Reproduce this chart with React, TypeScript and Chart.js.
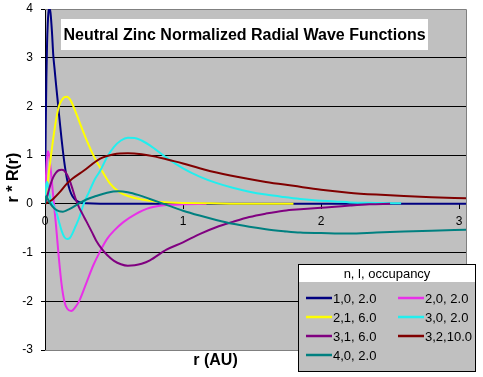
import React, { useEffect, useRef } from 'react';
import { Chart, registerables } from 'chart.js';
Chart.register(...registerables);

const TITLE = 'Neutral Zinc Normalized Radial Wave Functions';
const X_TITLE = 'r (AU)';
const Y_TITLE = 'r * R(r)';
const LEGEND_TITLE = 'n, l, occupancy';
const X_TICKS = [0, 1, 2, 3];
const X_MIN = 0;
const X_MAX = 3.05;
const Y_MIN = -3;
const Y_MAX = 4;

const SERIES_LABELS = ['1,0, 2.0', '2,0, 2.0', '2,1, 6.0', '3,0, 2.0', '3,1, 6.0', '3,2,10.0', '4,0, 2.0'];
const SERIES_COLORS = ['#000080', '#E830E8', '#FFFF00', '#22EEEE', '#800080', '#800000', '#008080'];

// 1,0
const r10 = [0, 0.005, 0.01, 0.015, 0.02, 0.025, 0.03, 0.035, 0.04, 0.05, 0.06, 0.07, 0.08, 0.09, 0.1, 0.11, 0.12, 0.13, 0.14, 0.15, 0.16, 0.18, 0.2, 0.23, 0.27, 0.3, 0.4, 0.6, 1.0, 2.0, 3.05];
const v10 = [0, 1.5, 2.6, 3.3, 3.7, 3.93, 4.0, 4.0, 3.92, 3.55, 3.05, 2.75, 2.45, 2.17, 1.88, 1.6, 1.33, 1.08, 0.85, 0.66, 0.5, 0.28, 0.15, 0.06, 0.02, 0.01, 0, 0, 0, 0, 0];
// 2,0
const r20 = [0, 0.01, 0.02, 0.03, 0.04, 0.05, 0.06, 0.07, 0.08, 0.1, 0.12, 0.14, 0.16, 0.19, 0.22, 0.25, 0.3, 0.35, 0.4, 0.45, 0.5, 0.57, 0.65, 0.76, 0.9, 1.0, 1.17];
const v20 = [0, 0.75, 1.08, 1.0, 0.75, 0.45, 0.15, -0.15, -0.45, -1.1, -1.65, -2.0, -2.15, -2.2, -2.12, -1.98, -1.62, -1.26, -0.97, -0.72, -0.55, -0.37, -0.22, -0.08, -0.02, -0.01, 0];
// 2,1
const r21 = [0, 0.02, 0.04, 0.06, 0.08, 0.1, 0.12, 0.14, 0.16, 0.18, 0.2, 0.22, 0.25, 0.3, 0.35, 0.4, 0.47, 0.54, 0.6, 0.7, 0.8, 0.9, 1.0, 1.2, 1.5, 1.8];
const v21 = [0, 0.45, 0.92, 1.35, 1.72, 2.0, 2.12, 2.19, 2.2, 2.15, 2.04, 1.9, 1.68, 1.32, 1.0, 0.74, 0.42, 0.24, 0.16, 0.09, 0.05, 0.03, 0.02, 0.01, 0, 0];
// 3,0
const r30 = [0, 0.005, 0.01, 0.015, 0.02, 0.03, 0.04, 0.05, 0.06, 0.08, 0.1, 0.12, 0.14, 0.16, 0.18, 0.2, 0.22, 0.25, 0.28, 0.32, 0.36, 0.4, 0.45, 0.5, 0.55, 0.6, 0.65, 0.7, 0.76, 0.88, 1.0, 1.12, 1.24, 1.36, 1.48, 1.6, 1.73, 1.85, 1.97, 2.1, 2.21, 2.4, 2.58];
const v30 = [0, 0.25, 0.42, 0.45, 0.4, 0.22, 0.1, 0.02, -0.03, -0.15, -0.35, -0.55, -0.68, -0.72, -0.7, -0.6, -0.47, -0.27, 0, 0.25, 0.5, 0.68, 0.96, 1.17, 1.3, 1.355, 1.35, 1.3, 1.2, 0.95, 0.73, 0.56, 0.43, 0.33, 0.25, 0.19, 0.14, 0.1, 0.07, 0.05, 0.03, 0.02, 0.01];
// 3,1
const r31 = [0, 0.02, 0.04, 0.06, 0.08, 0.1, 0.12, 0.14, 0.16, 0.18, 0.2, 0.22, 0.24, 0.27, 0.3, 0.34, 0.37, 0.41, 0.45, 0.5, 0.55, 0.6, 0.65, 0.7, 0.76, 0.88, 1.0, 1.12, 1.24, 1.36, 1.48, 1.6, 1.73, 1.85, 2.0, 2.1, 2.21, 2.35, 2.5];
const v31 = [0, 0.2, 0.4, 0.55, 0.64, 0.69, 0.7, 0.68, 0.6, 0.47, 0.3, 0.12, -0.03, -0.2, -0.36, -0.58, -0.75, -0.92, -1.05, -1.17, -1.24, -1.27, -1.26, -1.23, -1.16, -0.94, -0.79, -0.62, -0.48, -0.37, -0.27, -0.2, -0.14, -0.11, -0.08, -0.06, -0.035, -0.01, 0];
// 3,2
const r32 = [0, 0.05, 0.1, 0.157, 0.2, 0.28, 0.4, 0.5, 0.6, 0.7, 0.8, 0.9, 1.0, 1.12, 1.2, 1.4, 1.6, 1.8, 2.0, 2.2, 2.4, 2.6, 2.8, 3.05];
const v32 = [0, 0.08, 0.22, 0.41, 0.52, 0.68, 0.93, 1.02, 1.04, 1.02, 0.97, 0.9, 0.83, 0.73, 0.67, 0.55, 0.45, 0.37, 0.29, 0.23, 0.19, 0.16, 0.135, 0.115];
// 4,0
const r40 = [0, 0.005, 0.01, 0.02, 0.04, 0.07, 0.1, 0.13, 0.16, 0.2, 0.24, 0.3, 0.37, 0.45, 0.53, 0.6, 0.68, 0.76, 0.86, 1.0, 1.12, 1.24, 1.36, 1.48, 1.6, 1.73, 1.85, 2.0, 2.2, 2.4, 2.6, 2.8, 3.05];
const v40 = [0, 0.12, 0.16, 0.1, 0, -0.1, -0.15, -0.16, -0.13, -0.07, 0, 0.09, 0.16, 0.23, 0.26, 0.24, 0.18, 0.1, 0, -0.14, -0.24, -0.33, -0.41, -0.47, -0.52, -0.56, -0.59, -0.6, -0.61, -0.59, -0.57, -0.55, -0.53];

const SERIES_R = [r10, r20, r21, r30, r31, r32, r40];
const SERIES_V = [v10, v20, v21, v30, v31, v32, v40];

const FONT = '"Liberation Sans", Arial, sans-serif';

const decorPlugin = {
  id: 'decor',
  beforeDraw(chart: any) {
    const { ctx, chartArea: a } = chart;
    ctx.save();
    ctx.fillStyle = '#C0C0C0';
    ctx.fillRect(a.left, a.top, a.right - a.left, a.bottom - a.top);
    ctx.restore();
  },
  beforeDatasetsDraw(chart: any) {
    const { ctx, chartArea: a } = chart;
    ctx.save();
    ctx.strokeStyle = '#808080';
    ctx.lineWidth = 1;
    ctx.beginPath();
    ctx.moveTo(a.left, Math.round(a.top) + 0.5);
    ctx.lineTo(Math.round(a.right) + 0.5, Math.round(a.top) + 0.5);
    ctx.lineTo(Math.round(a.right) + 0.5, Math.round(a.bottom) + 0.5);
    ctx.lineTo(a.left, Math.round(a.bottom) + 0.5);
    ctx.stroke();
    ctx.restore();
  },
  afterDraw(chart: any) {
    const ctx = chart.ctx;
    ctx.save();
    // title box
    ctx.fillStyle = '#FFFFFF';
    ctx.fillRect(61, 19, 367, 31);
    ctx.fillStyle = '#000';
    ctx.font = 'bold 16px ' + FONT;
    ctx.textAlign = 'center';
    ctx.textBaseline = 'alphabetic';
    ctx.fillText(TITLE, 244.5, 39.5);
    // axis titles
    ctx.textBaseline = 'middle';
    ctx.fillText(X_TITLE, 215.5, 361);
    ctx.save();
    ctx.translate(14, 177.5);
    ctx.rotate(-Math.PI / 2);
    ctx.fillText(Y_TITLE, 0, 0);
    ctx.restore();
    // legend
    const L = 298, T = 264, R = 476, B = 372, TB = 282;
    ctx.fillStyle = '#C0C0C0';
    ctx.fillRect(L, T, R - L, B - T);
    ctx.fillStyle = '#FFFFFF';
    ctx.fillRect(L, T, R - L, TB - T);
    ctx.strokeStyle = '#000';
    ctx.lineWidth = 1;
    ctx.strokeRect(L + 0.5, T + 0.5, R - L - 1, B - T - 1);
    ctx.font = '13px ' + FONT;
    ctx.fillStyle = '#000';
    ctx.textAlign = 'center';
    ctx.fillText(LEGEND_TITLE, (L + R) / 2, (T + TB) / 2 + 1);
    chart.data.datasets.forEach((ds: any, i: number) => {
      const col = i % 2;
      const row = Math.floor(i / 2);
      const x0 = col === 0 ? 306 : 398;
      const y = 298 + row * 19;
      ctx.strokeStyle = ds.borderColor;
      ctx.lineWidth = 2.5;
      ctx.beginPath();
      ctx.moveTo(x0, y);
      ctx.lineTo(x0 + 26, y);
      ctx.stroke();
      ctx.fillStyle = '#000';
      ctx.textAlign = 'left';
      ctx.fillText(ds.label, x0 + 27, y + 1);
    });
    ctx.restore();
  },
};

export default function App() {
  const ref = useRef<HTMLCanvasElement | null>(null);
  useEffect(() => {
    if (!ref.current) return;
    const datasets = SERIES_LABELS.map((label, i) => ({
      label,
      data: SERIES_R[i].map((r, j) => ({ x: r, y: SERIES_V[i][j] })),
      borderColor: SERIES_COLORS[i],
      backgroundColor: SERIES_COLORS[i],
      borderWidth: 2,
      pointRadius: 0,
      pointHoverRadius: 0,
      pointBorderWidth: 0,
      cubicInterpolationMode: 'monotone' as const,
      fill: false,
      order: -i,
    }));
    const chart = new Chart(ref.current, {
      type: 'line',
      data: { datasets },
      options: {
        responsive: false,
        animation: false,
        devicePixelRatio: 1,
        layout: { padding: { left: 0, top: 9, right: 17, bottom: 27 } },
        plugins: { legend: { display: false }, tooltip: { enabled: false }, title: { display: false } },
        scales: {
          x: {
            type: 'linear',
            position: { y: 0 } as any,
            min: X_MIN,
            max: X_MAX,
            afterBuildTicks: (scale: any) => {
              scale.ticks = X_TICKS.map((v) => ({ value: v }));
            },
            afterFit: (scale: any) => {
              scale.paddingLeft = 0;
              scale.paddingRight = 0;
              scale.paddingTop = 0;
              scale.paddingBottom = 0;
            },
            grid: { drawOnChartArea: false, drawTicks: true, tickLength: 5, color: '#000', tickColor: '#000' },
            border: { color: '#000', width: 1 },
            ticks: { color: '#000', font: { family: FONT, size: 12 }, padding: 6, maxRotation: 0, autoSkip: false },
          },
          y: {
            type: 'linear',
            min: Y_MIN,
            max: Y_MAX,
            afterFit: (scale: any) => {
              scale.width = 45;
              scale.paddingTop = 0;
              scale.paddingBottom = 0;
            },
            grid: {
              color: (c: any) => (c.tick && (c.tick.value === Y_MIN || c.tick.value === Y_MAX) ? 'rgba(0,0,0,0)' : '#000'),
              tickColor: '#000',
              tickLength: 4,
            },
            border: { color: '#000', width: 1 },
            ticks: { stepSize: 1, color: '#000', font: { family: FONT, size: 12 }, padding: 8 },
          },
        },
      },
      plugins: [decorPlugin],
    });
    return () => chart.destroy();
  }, []);
  return (
    <div style={{ position: 'absolute', left: 0, top: 0, width: 483, height: 377, background: '#fff' }}>
      <canvas ref={ref} width={483} height={377} style={{ display: 'block' }} />
    </div>
  );
}
